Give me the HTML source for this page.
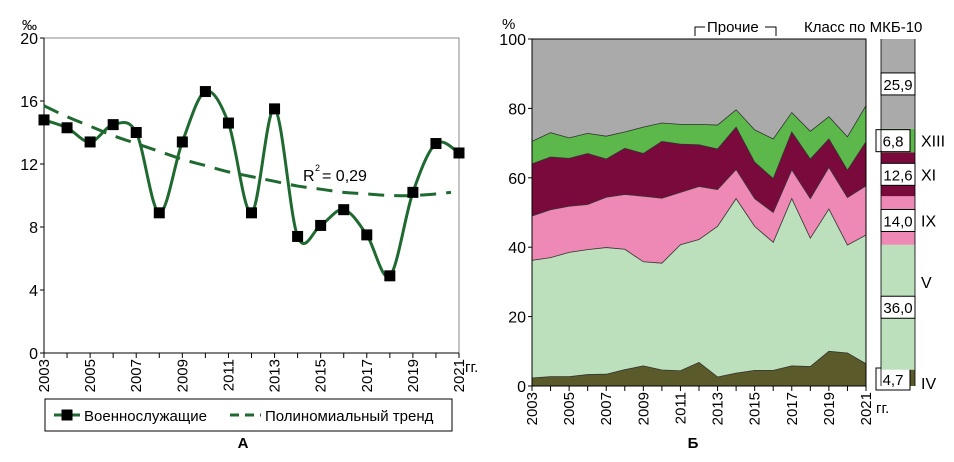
<!DOCTYPE html>
<html><head><meta charset="utf-8"><style>
body{margin:0;background:#fff;width:954px;height:457px;overflow:hidden}
svg{font-family:"Liberation Sans",sans-serif}
</style></head><body>
<svg width="954" height="457" id="fig">
<g id="left"></g>
<g id="right"></g>
</svg>
<script>
const years=[2003,2004,2005,2006,2007,2008,2009,2010,2011,2012,2013,2014,2015,2016,2017,2018,2019,2020,2021];
const militaryRate=[14.8,14.3,13.4,14.5,14.0,8.9,13.4,16.6,14.6,8.9,15.5,7.4,8.1,9.1,7.5,4.9,10.2,13.3,12.7];
const trendRate=[15.7,15.0,14.4,13.8,13.3,12.8,12.3,11.9,11.5,11.2,10.9,10.6,10.4,10.2,10.1,10.0,10.0,10.1,10.2];
const leftTicks=[0,4,8,12,16,20];
const xLabels=[2003,2005,2007,2009,2011,2013,2015,2017,2019,2021];
// Right chart: share (%) of each class per year
const classIV=[2.3,2.7,2.7,3.3,3.4,4.7,5.8,4.6,4.4,6.8,2.6,3.7,4.5,4.5,5.8,5.6,10.0,9.5,6.4];
const classV=[33.9,34.3,35.8,36.0,36.5,34.7,30.0,30.8,36.3,35.4,43.4,50.3,41.5,36.9,48.2,37.0,41.0,31.1,37.1];
const classIX=[12.8,13.8,13.3,13.0,14.5,15.8,18.9,18.7,15.1,15.3,10.6,8.4,8.0,8.6,8.3,11.4,12.0,13.7,14.2];
const classXI=[15.0,15.2,13.8,14.7,11.0,13.3,12.3,16.4,13.9,12.0,11.7,12.2,10.5,9.8,10.9,11.4,8.2,7.9,12.7];
const classXIII=[6.5,7.0,5.9,5.8,6.6,4.7,7.6,5.3,5.7,5.9,6.9,5.0,9.3,11.4,5.6,8.0,6.4,9.6,10.4];
const rightTicks=[0,20,40,60,80,100];
const summaryVals=[4.7,36.0,14.0,12.6,6.8,25.9];
const summaryLabels=["4,7","36,0","14,0","12,6","6,8","25,9"];
const classNames=["IV","V","IX","XI","XIII"];

const NS="http://www.w3.org/2000/svg";
function mk(parent,tag,attrs,text){const e=document.createElementNS(NS,tag);for(const k in attrs)e.setAttribute(k,attrs[k]);if(text!==undefined)e.textContent=text;parent.appendChild(e);return e;}

// ---------- Left chart ----------
const L=document.getElementById('left');
const lx0=44,lx1=459,ly0=353,ly1=38;
const lx=i=>lx0+(lx1-lx0)*i/(years.length-1);
const ly=v=>ly0-(ly0-ly1)*v/20;
let e=mk(L,'rect',{x:lx0,y:ly1,width:lx1-lx0,height:ly0-ly1,fill:'#fff',stroke:'#888','stroke-width':1});


e=mk(L,'line',{x1:lx0,y1:ly1,x2:lx0,y2:ly0,stroke:'#000'});


e=mk(L,'line',{x1:lx0,y1:ly0,x2:lx1,y2:ly0,stroke:'#000'});


leftTicks.forEach(t=>{
  mk(L,'line',{x1:lx0-4,y1:ly(t),x2:lx0,y2:ly(t),stroke:'#000'});
  e=mk(L,'text',{x:lx0-6,y:ly(t)+6,'text-anchor':'end','font-size':16},String(t));
  
  
});
years.forEach((y,i)=>mk(L,'line',{x1:lx(i),y1:ly0,x2:lx(i),y2:ly0+5,stroke:'#000'}));
xLabels.forEach(y=>{
  const i=years.indexOf(y);
  e=mk(L,'text',{transform:`translate(${lx(i)+5},${ly0+6}) rotate(-90)`,'text-anchor':'end','font-size':15},String(y));
  
  
});
e=mk(L,'text',{x:lx1+6,y:ly0+19,'font-size':15},'гг.');


e=mk(L,'text',{x:22,y:30,'font-size':15},'‰');


function smooth(pts){let d=`M${pts[0][0]},${pts[0][1]}`;for(let i=0;i<pts.length-1;i++){const p0=pts[i-1]||pts[i],p1=pts[i],p2=pts[i+1],p3=pts[i+2]||p2;const c1=[p1[0]+(p2[0]-p0[0])/6,p1[1]+(p2[1]-p0[1])/6],c2=[p2[0]-(p3[0]-p1[0])/6,p2[1]-(p3[1]-p1[1])/6];d+=` C${c1[0]},${c1[1]} ${c2[0]},${c2[1]} ${p2[0]},${p2[1]}`;}return d;}
const tpts=trendRate.map((v,i)=>[lx(i),ly(v)]);
tpts[tpts.length-1][0]-=8;
e=mk(L,'path',{d:smooth(tpts),fill:'none',stroke:'#1f6a30','stroke-width':3,'stroke-dasharray':'16,10'});


e=mk(L,'path',{d:smooth(militaryRate.map((v,i)=>[lx(i),ly(v)])),fill:'none',stroke:'#1f6a30','stroke-width':3});


militaryRate.forEach((v,i)=>{
  e=mk(L,'rect',{x:lx(i)-5.5,y:ly(v)-5.5,width:11,height:11,fill:'#000'});
  
  
});
e=mk(L,'text',{x:303,y:181,'font-size':16},'R');


mk(L,'text',{x:315,y:171,'font-size':9},'2');
mk(L,'text',{x:322,y:181,'font-size':16},'= 0,29');
// legend
e=mk(L,'rect',{x:45,y:399,width:407,height:32,fill:'#fff',stroke:'#000'});


mk(L,'line',{x1:54,y1:415,x2:80,y2:415,stroke:'#1f6a30','stroke-width':3});
mk(L,'rect',{x:61.5,y:409.5,width:11,height:11,fill:'#000'});
e=mk(L,'text',{x:84,y:421,'font-size':15},'Военнослужащие');


mk(L,'line',{x1:230,y1:415,x2:261,y2:415,stroke:'#1f6a30','stroke-width':3,'stroke-dasharray':'9,6'});
e=mk(L,'text',{x:265,y:421,'font-size':15},'Полиномиальный тренд');


e=mk(L,'text',{x:243,y:448,'font-size':15,'font-weight':'bold','text-anchor':'middle'},'А');



// ---------- Right chart ----------
const R=document.getElementById('right');
const rx0=532,rx1=866,ry0=386,ry1=39;
const rx=i=>rx0+(rx1-rx0)*i/(years.length-1);
const ry=v=>ry0-(ry0-ry1)*v/100;
mk(R,'rect',{x:rx0,y:ry1,width:rx1-rx0,height:ry0-ry1,fill:'#aaaaaa'});
const layers=[classIV,classV,classIX,classXI,classXIII];
const colors=['#5b5a2a','#bcdfbc','#ee88b4','#7a0a3c','#5cb84a'];
const layerNames=['area-class-iv','area-class-v','area-class-ix','area-class-xi','area-class-xiii'];
const cum=years.map(()=>0);
const bounds=[cum.slice()];
layers.forEach(l=>{l.forEach((v,i)=>cum[i]+=v);bounds.push(cum.slice());});
for(let k=layers.length-1;k>=0;k--){
  const top=bounds[k+1];
  let d=`M${rx0},${ry0}`;top.forEach((v,i)=>d+=` L${rx(i)},${ry(v)}`);d+=` L${rx1},${ry0} Z`;
  e=mk(R,'path',{d,fill:colors[k],stroke:'#333','stroke-width':0.8});
  
  
}
mk(R,'rect',{x:rx0,y:ry1,width:rx1-rx0,height:ry0-ry1,fill:'none',stroke:'#000'});
rightTicks.forEach(t=>{
  mk(R,'line',{x1:rx0-4,y1:ry(t),x2:rx0,y2:ry(t),stroke:'#000'});
  e=mk(R,'text',{x:rx0-6,y:ry(t)+6,'text-anchor':'end','font-size':16},String(t));
  
  
});
years.forEach((y,i)=>mk(R,'line',{x1:rx(i),y1:ry0,x2:rx(i),y2:ry0+5,stroke:'#000'}));
xLabels.forEach(y=>{
  const i=years.indexOf(y);
  e=mk(R,'text',{transform:`translate(${rx(i)+5},${ry0+6}) rotate(-90)`,'text-anchor':'end','font-size':15},String(y));
  
  
});
e=mk(R,'text',{x:876,y:413,'font-size':15},'гг.');


e=mk(R,'text',{x:502,y:29,'font-size':15},'%');


e=mk(R,'path',{d:'M695,36 V27 H705 M765,27 H776 V36',fill:'none',stroke:'#000'});


e=mk(R,'text',{x:707,y:32,'font-size':15},'Прочие');


e=mk(R,'text',{x:804,y:32,'font-size':15},'Класс по МКБ-10');


// summary bar
const bx=881,bw=34;
const bColors=colors.concat(['#aaaaaa']);
const bNames=['bar-class-iv','bar-class-v','bar-class-ix','bar-class-xi','bar-class-xiii','bar-others'];
let acc=0;
summaryVals.forEach((v,k)=>{
  const y0=ry(acc),y1=ry(acc+v);
  e=mk(R,'rect',{x:bx,y:y1,width:bw,height:y0-y1,fill:bColors[k]});
  
  
  const mid=(y0+y1)/2;
  const lyPos=k===0?y0-7:mid;
  const bxx=k===4?876:k===0?876:881;
  e=mk(R,'rect',{x:bxx,y:lyPos-11,width:34,height:22,fill:'#fff',stroke:'#000'});
  
  
  e=mk(R,'text',{x:bxx+17,y:lyPos+6,'text-anchor':'middle','font-size':15},summaryLabels[k]);
  
  
  if(k<5){
    e=mk(R,'text',{x:921,y:(k===1?ry(acc+v*0.7):k===0?y0-3:mid)+6,'font-size':16},classNames[k]);
    
    
  }
  acc+=v;
});
mk(R,'line',{x1:bx,y1:ry1,x2:bx,y2:ry0,stroke:'#000','stroke-width':0.8});
mk(R,'line',{x1:bx+bw,y1:ry1,x2:bx+bw,y2:ry0,stroke:'#000','stroke-width':0.8});
e=mk(R,'text',{x:693,y:448,'font-size':15,'font-weight':'bold','text-anchor':'middle'},'Б');


</script>
</body></html>
